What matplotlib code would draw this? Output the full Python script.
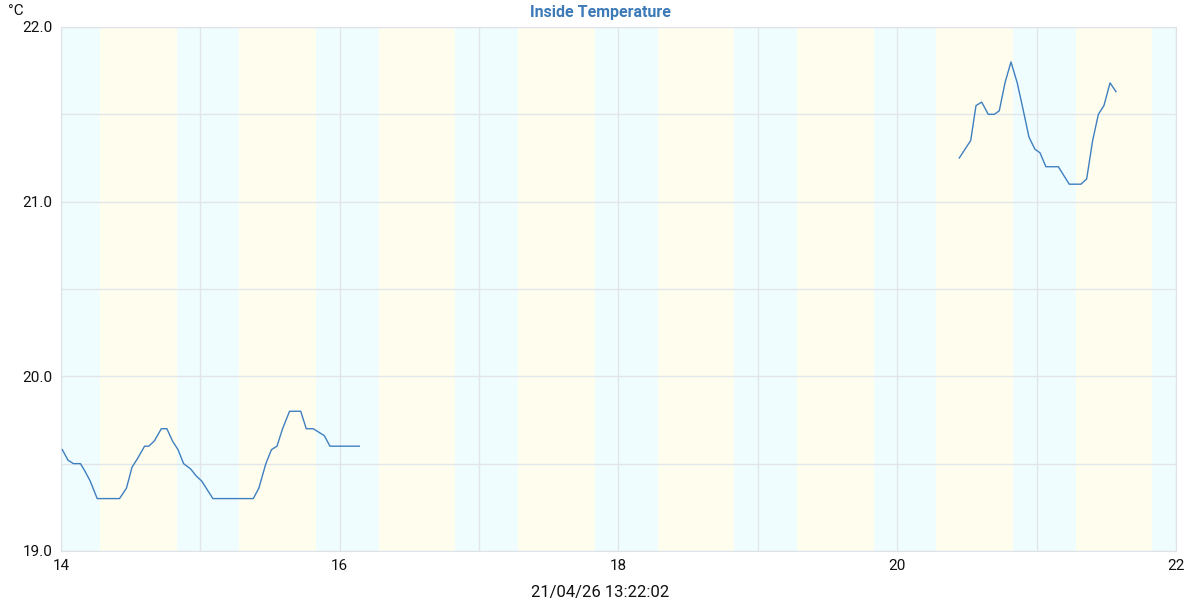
import matplotlib
matplotlib.use("Agg")
import matplotlib.pyplot as plt

plt.rcParams['font.family'] = ['Roboto', 'DejaVu Sans']

# first run of readings
x1 = [14.01, 14.05, 14.09, 14.14, 14.17, 14.21, 14.26, 14.42, 14.47, 14.51,
      14.55, 14.60, 14.63, 14.67, 14.72, 14.76, 14.80, 14.84, 14.88, 14.93,
      14.97, 15.01, 15.09, 15.38, 15.42, 15.47, 15.51, 15.55, 15.59, 15.64,
      15.72, 15.76, 15.81, 15.89, 15.93, 16.14]
y1 = [19.58, 19.52, 19.50, 19.50, 19.46, 19.40, 19.30, 19.30, 19.36, 19.48,
      19.53, 19.60, 19.60, 19.63, 19.70, 19.70, 19.63, 19.58, 19.50, 19.47,
      19.43, 19.40, 19.30, 19.30, 19.36, 19.50, 19.58, 19.60, 19.70, 19.80,
      19.80, 19.70, 19.70, 19.66, 19.60, 19.60]

# second run of readings
x2 = [20.445, 20.527, 20.565, 20.606, 20.653, 20.696, 20.732, 20.773, 20.816,
      20.861, 20.905, 20.945, 20.988, 21.024, 21.067, 21.156, 21.234, 21.318,
      21.359, 21.402, 21.443, 21.483, 21.527, 21.569]
y2 = [21.25, 21.35, 21.55, 21.57, 21.50, 21.50, 21.52, 21.68, 21.80,
      21.68, 21.52, 21.37, 21.30, 21.28, 21.20, 21.20, 21.10, 21.10,
      21.13, 21.35, 21.50, 21.55, 21.68, 21.63]

days = [14, 15, 16, 17, 18, 19, 20, 21]
sunrise = 0.28
sunset = 0.83

fig = plt.figure(figsize=(12, 6), dpi=100)
ax = fig.add_axes([0.0508, 0.0817, 0.9292, 0.8733])

ax.axvspan(14, 22, color='#effdfe', zorder=0, lw=0)
for d in days:
    ax.axvspan(d + sunrise, d + sunset, color='#fefdee', zorder=0.5, lw=0)

ax.plot(x1, y1, color='#3f7fbf', lw=1, zorder=3)
ax.plot(x2, y2, color='#3f7fbf', lw=1, zorder=3)

ax.set_xlim(14, 22)
ax.set_ylim(19, 22)
ax.set_xticks([14, 16, 18, 20, 22])
ax.set_xticks([15, 17, 19, 21], minor=True)
ax.set_yticks([19, 20, 21, 22])
ax.set_yticks([19.5, 20.5, 21.5], minor=True)
ax.set_yticklabels(['19.0', '20.0', '21.0', '22.0'])
ax.grid(True, which='both', color='#e2e6ea', lw=1, zorder=1)
ax.set_axisbelow(True)
ax.tick_params(which='both', length=0, labelsize=11, colors='#111111', pad=6)
for s in ax.spines.values():
    s.set_color('#dde3e8')

fig.text(0.5, 0.98, 'Inside Temperature', color='#3d7ab8', fontsize=11.5,
         fontweight='bold', ha='center', va='center')
fig.text(0.007, 0.982, '°C', fontsize=11, va='center', ha='left', color='#111111')
fig.text(0.5, 0.013, '21/04/26 13:22:02', fontsize=12, ha='center', va='center',
         color='#111111')

fig.savefig('out.png', dpi=100)
